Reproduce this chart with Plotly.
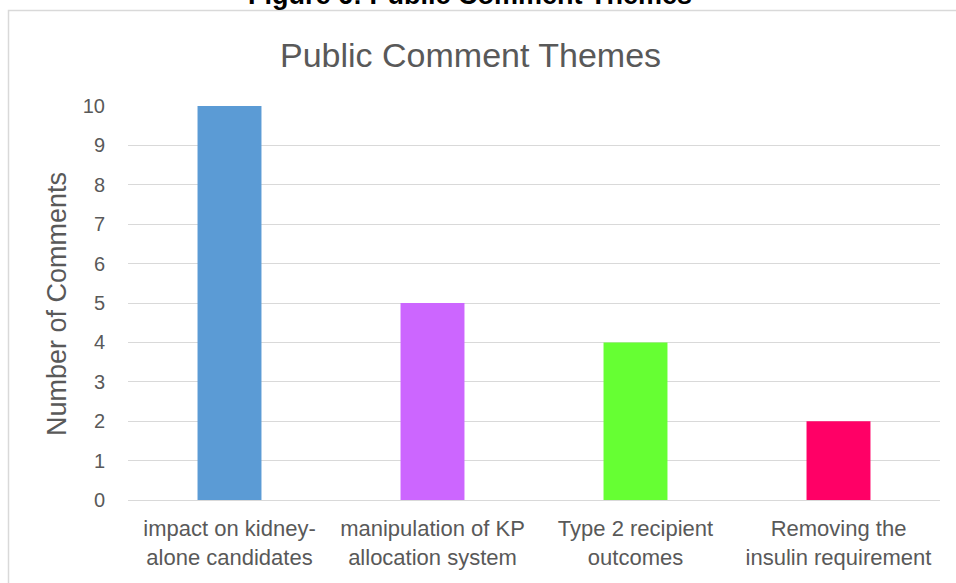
import plotly.graph_objects as go

categories = ["impact on kidney-<br>alone candidates",
              "manipulation of KP<br>allocation system",
              "Type 2 recipient<br>outcomes",
              "Removing the<br>insulin requirement"]
values = [10, 5, 4, 2]
colors = ["#5B9BD5", "#CC66FF", "#66FF33", "#FF0066"]
y_ticks = list(range(0, 11))

W, H = 956, 583
L, R, T, B = 128, 16, 106, 83
pw = W - L - R
ph = H - T - B

def px(x):
    return (x - L) / pw

def py(y):
    return (H - B - y) / ph

FONT = "Liberation Sans, Arial, sans-serif"

fig = go.Figure(go.Bar(x=categories, y=values, marker=dict(color=colors, line=dict(width=0))))

fig.update_layout(
    width=W, height=H,
    margin=dict(l=L, r=R, t=T, b=B, pad=0),
    paper_bgcolor="white", plot_bgcolor="white",
    bargap=0.685,
    showlegend=False,
    font=dict(family=FONT, color="#595959"),
)
fig.update_xaxes(showgrid=False, showline=True, linecolor="#D9D9D9", linewidth=1,
                 ticks="", tickfont=dict(size=22, color="#595959"), ticklabelstandoff=9)
fig.update_yaxes(range=[0, 10], tickvals=y_ticks, showgrid=True, gridcolor="#D9D9D9",
                 gridwidth=1, zeroline=False, showline=False, ticks="",
                 tickfont=dict(size=20, color="#595959"), ticklabelstandoff=22)

# chart border
fig.add_shape(type="rect", xref="paper", yref="paper",
              x0=px(8.5), x1=px(1000), y0=py(620), y1=py(10.5),
              line=dict(color="#D9D9D9", width=1.5), fillcolor="rgba(0,0,0,0)", layer="below")

# chart title
fig.add_annotation(text="Public Comment Themes", xref="paper", yref="paper",
                   x=px(470), y=py(55), xanchor="center", yanchor="middle", showarrow=False,
                   font=dict(size=34, color="#595959", family=FONT))
# figure caption (cut off at top)
fig.add_annotation(text="<b>Figure 6: Public Comment Themes</b>", xref="paper", yref="paper",
                   x=px(470), y=py(-5), xanchor="center", yanchor="middle", showarrow=False,
                   font=dict(size=27, color="#000000", family=FONT))
# y-axis title
fig.add_annotation(text="Number of Comments", xref="paper", yref="paper",
                   x=px(57), y=py(304), xanchor="center", yanchor="middle", showarrow=False,
                   textangle=-90, font=dict(size=27, color="#595959", family=FONT))

fig.write_html("out.html")
